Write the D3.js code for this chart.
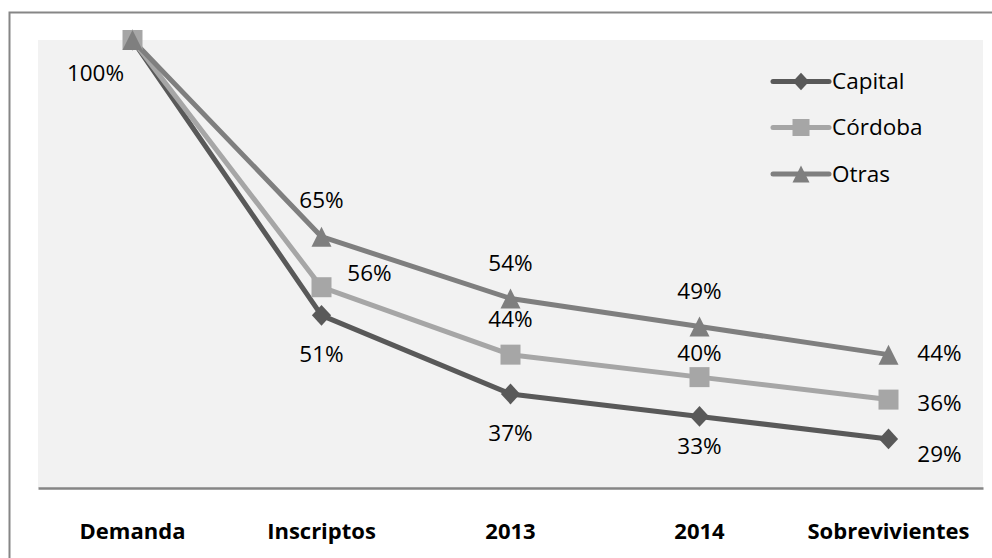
<!DOCTYPE html>
<html>
<head>
<meta charset="utf-8">
<script src="https://cdn.jsdelivr.net/npm/d3@7"></script>
<style>
  html, body { margin: 0; padding: 0; background: #ffffff; }
  svg { display: block; }
</style>
</head>
<body>
<div id="chart"></div>
<script>
// ---------- DATA ----------
const categories = ["Demanda", "Inscriptos", "2013", "2014", "Sobrevivientes"];
const seriesNames = ["Capital", "Córdoba", "Otras"];
const capital = [100, 51, 37, 33, 29];
const cordoba = [100, 56, 44, 40, 36];
const otras   = [100, 65, 54, 49, 44];
const labelsCapital = ["", "51%", "37%", "33%", "29%"];
const labelsCordoba = ["", "56%", "44%", "40%", "36%"];
const labelsOtras   = ["100%", "65%", "54%", "49%", "44%"];

// ---------- STYLE / LAYOUT ----------
const W = 992, H = 558;
const plot = { left: 38, right: 983, top: 40, bottom: 488 };
const colors = { "Capital": "#595959", "Córdoba": "#a6a6a6", "Otras": "#7f7f7f" };
const markerShape = { "Capital": "diamond", "Córdoba": "square", "Otras": "triangle" };
const fontFamily = "'Open Sans', 'Noto Sans', sans-serif";
// label offsets (dx, dy) relative to each point, per series
const labelOffsets = {
  "Capital": [[0,0],[0,39],[0,39],[0,29.5],[51,15.5]],
  "Córdoba": [[0,0],[48,-14.5],[0,-36],[0,-24],[51,4]],
  "Otras":   [[-37,33],[0,-37],[0,-35],[0,-35.5],[51,-2]]
};

const series = [
  { name: seriesNames[0], values: capital, labels: labelsCapital },
  { name: seriesNames[1], values: cordoba, labels: labelsCordoba },
  { name: seriesNames[2], values: otras,   labels: labelsOtras }
];

const svg = d3.select("#chart").append("svg")
  .attr("width", W).attr("height", H);

svg.append("rect").attr("x", 0).attr("y", 0).attr("width", W).attr("height", H).attr("fill", "#ffffff");

// outer chart border (clipped at right & bottom in the reference)
svg.append("rect")
  .attr("x", 9.5).attr("y", 12.5).attr("width", 1100).attr("height", 700)
  .attr("fill", "none").attr("stroke", "#868686").attr("stroke-width", 2);

// plot area
svg.append("rect")
  .attr("x", plot.left).attr("y", plot.top)
  .attr("width", plot.right - plot.left).attr("height", plot.bottom - plot.top)
  .attr("fill", "#f2f2f2");

const x = d3.scaleBand().domain(categories).range([plot.left, plot.right]).padding(0);
const y = d3.scaleLinear().domain([20, 100]).range([489.5, 40]);
const cx = c => x(c) + x.bandwidth() / 2;

// x axis
const xAxis = d3.axisBottom(x).tickSize(0).tickPadding(0);
const gx = svg.append("g").attr("transform", `translate(0,${plot.bottom})`).call(xAxis);
gx.select(".domain").attr("stroke", "#868686").attr("stroke-width", 2.5);
gx.selectAll(".tick text")
  .attr("y", 43).attr("dy", "0.35em")
  .attr("font-family", fontFamily).attr("font-size", "22px").attr("font-weight", "bold")
  .attr("fill", "#000");

// marker path generators
function markerPath(shape, s) {
  if (shape === "diamond") {
    const w = s * 0.48, h = s * 0.52;
    return `M0,${-h}L${w},0L0,${h}L${-w},0Z`;
  }
  if (shape === "square") {
    const h = s / 2;
    return `M${-h},${-h}H${h}V${h}H${-h}Z`;
  }
  const h = s / 2;
  return `M0,${-h}L${h},${h}L${-h},${h}Z`;
}

const line = d3.line().x((d, i) => cx(categories[i])).y(d => y(d));

// lines
series.forEach(s => {
  svg.append("path")
    .datum(s.values)
    .attr("d", line)
    .attr("fill", "none")
    .attr("stroke", colors[s.name])
    .attr("stroke-width", 5)
    .attr("stroke-linejoin", "round")
    .attr("stroke-linecap", "round");
});

// markers
series.forEach(s => {
  svg.append("g").selectAll("path")
    .data(s.values)
    .join("path")
    .attr("transform", (d, i) => `translate(${cx(categories[i])},${y(d)})`)
    .attr("d", markerPath(markerShape[s.name], 20))
    .attr("fill", colors[s.name]);
});

// labels
series.forEach(s => {
  const pts = s.values.map((v, i) => ({ v, i, label: s.labels[i] })).filter(p => p.label !== "");
  svg.append("g").selectAll("text")
    .data(pts)
    .join("text")
    .attr("x", p => cx(categories[p.i]) + labelOffsets[s.name][p.i][0])
    .attr("y", p => y(p.v) + labelOffsets[s.name][p.i][1])
    .attr("dy", "0.35em")
    .attr("text-anchor", "middle")
    .attr("font-family", fontFamily)
    .attr("font-size", "22.5px")
    .attr("fill", "#000")
    .text(p => p.label);
});

// legend
const legend = svg.append("g");
const legendY = [81.5, 127.5, 174];
series.forEach((s, k) => {
  const g = legend.append("g").attr("transform", `translate(0,${legendY[k]})`);
  g.append("line").attr("x1", 773).attr("x2", 829).attr("y1", 0).attr("y2", 0)
    .attr("stroke", colors[s.name]).attr("stroke-width", 5).attr("stroke-linecap", "round");
  g.append("path").attr("transform", "translate(801,0)")
    .attr("d", markerPath(markerShape[s.name], 17))
    .attr("fill", colors[s.name]);
  g.append("text").attr("x", 832).attr("y", 0).attr("dy", "0.35em")
    .attr("font-family", fontFamily).attr("font-size", "22.5px").attr("fill", "#000")
    .text(s.name);
});
</script>
</body>
</html>
